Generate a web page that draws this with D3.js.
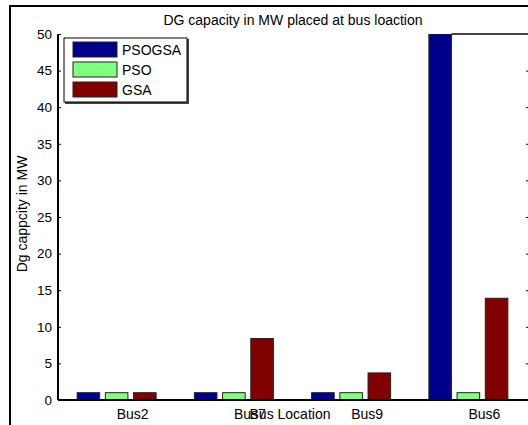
<!DOCTYPE html>
<meta charset="utf-8">
<style>
  body { margin: 0; background: #fff; }
  text { font-family: "Liberation Sans", Arial, sans-serif; fill: #000; }
</style>
<svg width="528" height="425"></svg>
<script src="https://d3js.org/d3.v7.min.js"></script>
<script>
  var buses = ["Bus2", "Bus7", "Bus9", "Bus6"];
  var methods = ["PSOGSA", "PSO", "GSA"];
  var psogsa = [1, 1, 1, 50];
  var pso = [1, 1, 1, 1];
  var gsa = [1, 8.4, 3.7, 13.9];
  var yTicks = [0, 5, 10, 15, 20, 25, 30, 35, 40, 45, 50];
  var colors = ["#00008b", "#80ff80", "#800000"];

  var series = [psogsa, pso, gsa];
  var data = buses.map(function(b, i) {
    return { bus: b, vals: methods.map(function(m, j) { return { key: m, value: series[j][i] }; }) };
  });

  var svg = d3.select("svg"),
    margin = { top: 34, right: 1, bottom: 25, left: 58 },
    width = +svg.attr("width") - margin.left - margin.right,
    height = +svg.attr("height") - margin.top - margin.bottom;

  // outer figure frame
  svg.append("rect")
    .attr("x", 10).attr("y", 6)
    .attr("width", 600).attr("height", 600)
    .attr("fill", "none")
    .attr("stroke", "#000")
    .attr("stroke-width", 2);

  var x0 = d3.scaleBand().domain(buses).range([0, width]).padding(0);
  var x1 = d3.scaleBand().domain(methods).range([x0.bandwidth() / 2 - 39.5, x0.bandwidth() / 2 + 39.5]).paddingInner(0.2);
  var y = d3.scaleLinear().domain([0, 50]).range([height, 0]);

  var g = svg.append("g").attr("transform", "translate(" + margin.left + "," + margin.top + ")");

  g.append("clipPath").attr("id", "clip")
    .append("rect").attr("x", 0).attr("y", 0).attr("width", width).attr("height", height);

  g.append("g").attr("clip-path", "url(#clip)")
    .selectAll("g")
    .data(data)
    .enter().append("g")
    .attr("transform", function(d) { return "translate(" + x0(d.bus) + ",0)"; })
    .selectAll("rect")
    .data(function(d) { return d.vals; })
    .enter().append("rect")
    .attr("x", function(d) { return x1(d.key); })
    .attr("y", function(d) { return y(d.value); })
    .attr("width", x1.bandwidth())
    .attr("height", function(d) { return height - y(d.value); })
    .attr("fill", function(d, i) { return colors[i]; })
    .attr("stroke", "#222")
    .attr("stroke-width", 1);

  // left axis
  var yAxis = d3.axisLeft(y).tickValues(yTicks).tickSize(-3).tickPadding(6);
  g.append("g")
    .call(yAxis)
    .call(function(a) {
      a.select(".domain").remove();
      a.selectAll("text").style("font-size", "13.5px").style("font-family", "'Liberation Sans', Arial, sans-serif");
    });

  // right ticks
  g.append("g")
    .attr("transform", "translate(" + (width + 2) + ",0)")
    .call(d3.axisRight(y).tickValues(yTicks).tickSize(-3).tickFormat(""))
    .call(function(a) { a.select(".domain").remove(); });

  g.append("line")
    .attr("x1", 0).attr("x2", 0).attr("y1", 0).attr("y2", height)
    .attr("stroke", "#000").attr("stroke-width", 2);

  // top box line (visible only right of tallest bar)
  g.append("line")
    .attr("x1", x0("Bus6") + x1("PSOGSA") + x1.bandwidth()).attr("x2", width + 2)
    .attr("y1", 0).attr("y2", 0)
    .attr("stroke", "#444").attr("stroke-width", 2);

  // bottom axis
  g.append("line")
    .attr("x1", 0).attr("x2", width + 2).attr("y1", height).attr("y2", height)
    .attr("stroke", "#000").attr("stroke-width", 2);

  g.selectAll(".xlab")
    .data(buses)
    .enter().append("text")
    .attr("class", "xlab")
    .attr("x", function(d) { return x0(d) + x0.bandwidth() / 2 + 16; })
    .attr("y", height + 19)
    .attr("text-anchor", "middle")
    .style("font-size", "14px")
    .text(function(d) { return d; });

  svg.append("text")
    .attr("x", 290)
    .attr("y", 419)
    .attr("text-anchor", "middle")
    .style("font-size", "14px")
    .text("Bus Location");

  svg.append("text")
    .attr("transform", "translate(27," + (margin.top + height / 2 - 3) + ") rotate(-90)")
    .attr("text-anchor", "middle")
    .style("font-size", "14px")
    .text("Dg cappcity in MW");

  svg.append("text")
    .attr("x", 293)
    .attr("y", 25)
    .attr("text-anchor", "middle")
    .style("font-size", "14px")
    .text("DG capacity in MW placed at bus loaction");

  // legend
  var leg = svg.append("g").attr("transform", "translate(64,38)");
  leg.append("rect")
    .attr("x", 1).attr("y", 1).attr("width", 124).attr("height", 65)
    .attr("fill", "#444");
  leg.append("rect")
    .attr("width", 123).attr("height", 64)
    .attr("fill", "#fff").attr("stroke", "#000").attr("stroke-width", 1);
  var items = leg.selectAll(".item")
    .data(methods)
    .enter().append("g")
    .attr("class", "item")
    .attr("transform", function(d, i) { return "translate(9," + (4 + i * 20) + ")"; });
  items.append("rect")
    .attr("width", 44).attr("height", 15)
    .attr("fill", function(d, i) { return colors[i]; })
    .attr("stroke", "#222");
  items.append("text")
    .attr("x", 49).attr("y", 12.5)
    .style("font-size", "14px")
    .text(function(d) { return d; });
</script>
